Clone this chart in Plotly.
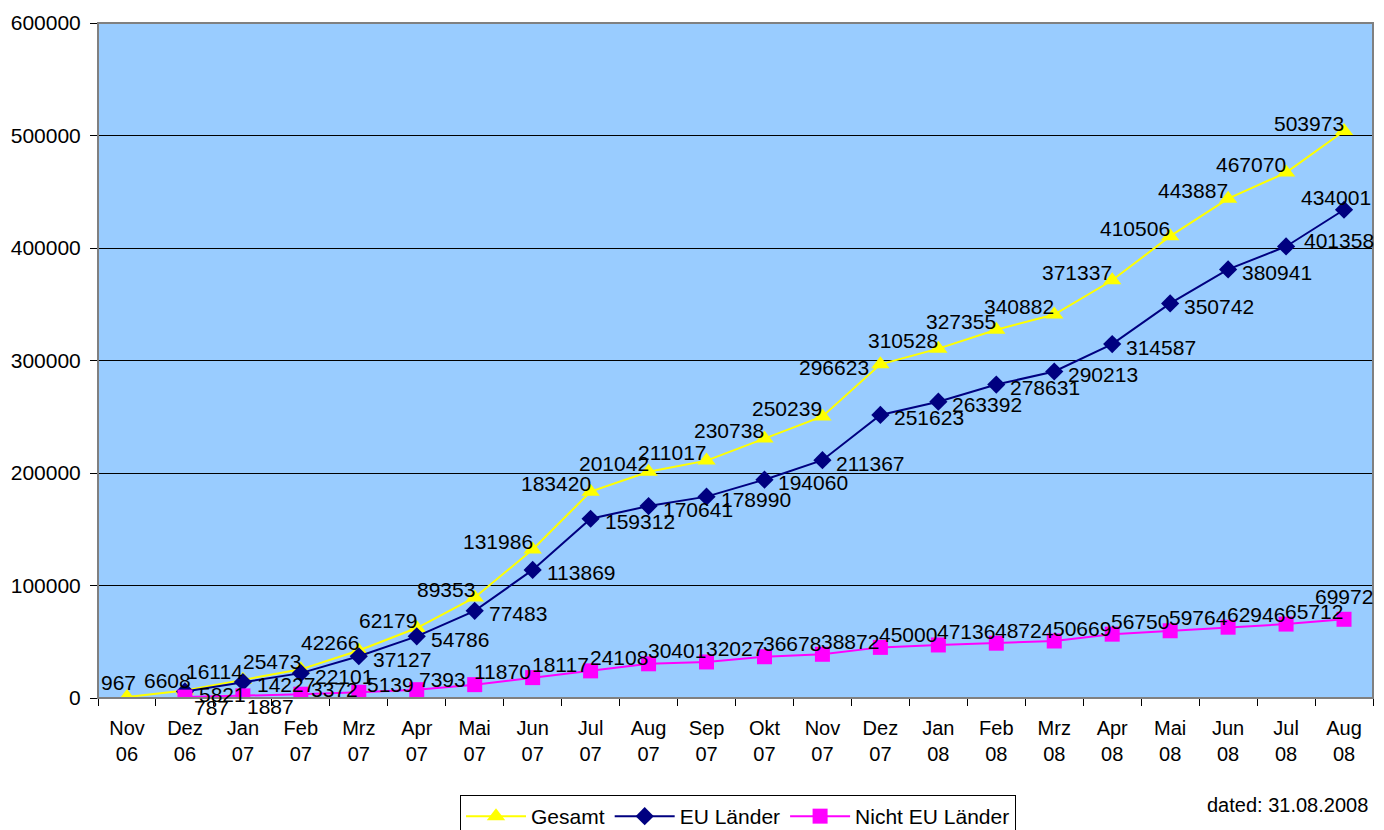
import plotly.graph_objects as go

months = ["Nov<br>06", "Dez<br>06", "Jan<br>07", "Feb<br>07", "Mrz<br>07", "Apr<br>07",
          "Mai<br>07", "Jun<br>07", "Jul<br>07", "Aug<br>07", "Sep<br>07", "Okt<br>07",
          "Nov<br>07", "Dez<br>07", "Jan<br>08", "Feb<br>08", "Mrz<br>08", "Apr<br>08",
          "Mai<br>08", "Jun<br>08", "Jul<br>08", "Aug<br>08"]

gesamt = [967, 6608, 16114, 25473, 42266, 62179, 89353, 131986, 183420, 201042, 211017,
          230738, 250239, 296623, 310528, 327355, 340882, 371337, 410506, 443887, 467070, 503973]

eu_laender = [5821, 14227, 22101, 37127, 54786, 77483, 113869, 159312, 170641, 178990,
              194060, 211367, 251623, 263392, 278631, 290213, 314587, 350742, 380941,
              401358, 434001]

nicht_eu = [787, 1887, 3372, 5139, 7393, 11870, 18117, 24108, 30401, 32027, 36678, 38872,
            45000, 47136, 48724, 50669, 56750, 59764, 62946, 65712, 69972]

FONT = "Liberation Sans, Arial, sans-serif"
LBL = 21

fig = go.Figure()
fig.add_trace(go.Scatter(
    x=months, y=gesamt, name="Gesamt", mode="lines+markers",
    line=dict(color="#FFFF00", width=2),
    marker=dict(symbol="triangle-up", size=16, color="#FFFF00")))
fig.add_trace(go.Scatter(
    x=months[1:], y=eu_laender, name="EU Länder", mode="lines+markers",
    line=dict(color="#000080", width=2),
    marker=dict(symbol="diamond", size=14, color="#000080")))
fig.add_trace(go.Scatter(
    x=months[1:], y=nicht_eu, name="Nicht EU Länder", mode="lines+markers",
    line=dict(color="#FF00FF", width=2),
    marker=dict(symbol="square", size=15, color="#FF00FF")))

# data labels placed relative to each point (anchor, xshift, yshift)
def label_style(series, i):
    if series == "g":
        if i == 0:
            return ("right", 11, 14)
        if i == 1:
            return ("right", 8, 10)
        if i == 13:
            return ("right", -9, -3)
        return ("right", 2, 8)
    if series == "e":
        n = len(eu_laender)
        if i == n - 1:
            return ("center", -8, 12)
        if i == n - 2:
            return ("left", 16, 6)
        return ("left", 12, -3)
    n = len(nicht_eu)
    special = {0: ("left", 7, -10), 1: ("left", 2, -11), 2: ("left", 8, 5),
               3: ("left", 6, 8), 4: ("left", 0, 10), n - 1: ("center", 0, 23)}
    return special.get(i, ("left", -3, 13))

annotations = []
for key, xs, ys in (("g", months, gesamt), ("e", months[1:], eu_laender),
                    ("n", months[1:], nicht_eu)):
    for i, (xv, yv) in enumerate(zip(xs, ys)):
        anchor, dx, dy = label_style(key, i)
        annotations.append(dict(x=xv, y=yv, xref="x", yref="y", text=str(yv),
                                showarrow=False, xanchor=anchor, yanchor="middle",
                                xshift=dx, yshift=dy,
                                font=dict(family=FONT, size=LBL, color="black")))

annotations.append(dict(text="dated: 31.08.2008", xref="paper", yref="paper",
                        x=0.998, y=-0.159, xanchor="right", yanchor="middle",
                        showarrow=False, font=dict(family=FONT, size=20)))

fig.update_layout(
    width=1384, height=830,
    margin=dict(l=97, r=11, t=19, b=132),
    paper_bgcolor="white", plot_bgcolor="#99CCFF",
    font=dict(family=FONT, size=20, color="black"),
    showlegend=True,
    legend=dict(orientation="h", xref="container", yref="container",
                x=460 / 1384, y=1 - 795 / 830, xanchor="left", yanchor="top",
                bordercolor="black", borderwidth=1, bgcolor="white",
                font=dict(family=FONT, size=21), itemwidth=60,
                traceorder="normal"),
    xaxis=dict(type="category", categoryorder="array", categoryarray=months,
               range=[-0.5, len(months) - 0.5],
               tickson="boundaries", ticks="outside", ticklen=7, tickcolor="black",
               showline=True, linecolor="black", linewidth=1, ticklabelstandoff=12,
               showgrid=False, tickfont=dict(family=FONT, size=20), zeroline=False),
    yaxis=dict(range=[0, 600000], dtick=100000, ticks="outside", ticklen=7,
               tickcolor="black", showline=True, linecolor="black", linewidth=1,
               ticklabelstandoff=5,
               showgrid=True, gridcolor="black", gridwidth=1, zeroline=False,
               tickfont=dict(family=FONT, size=21), tickformat="d"),
    shapes=[dict(type="rect", xref="paper", yref="paper", x0=0, x1=1, y0=0, y1=1,
                 line=dict(color="#808080", width=2), layer="above")],
    annotations=annotations,
)

fig.write_html("out.html", config={"displayModeBar": False},
               post_script="document.body.style.margin='0';document.body.style.overflow='hidden';")
